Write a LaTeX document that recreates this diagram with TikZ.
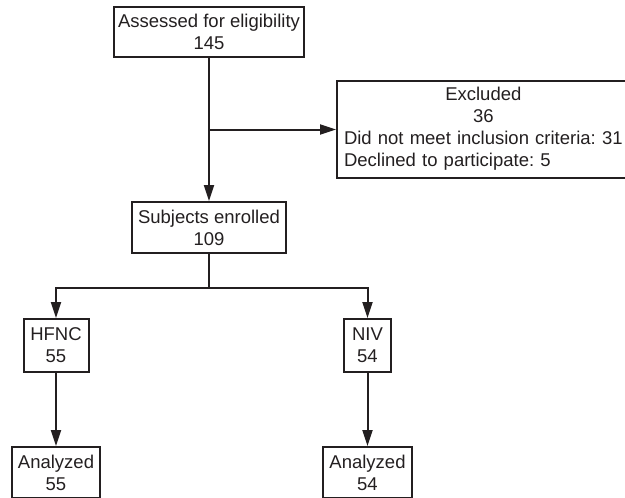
\documentclass[tikz,border=0pt]{standalone}
\usepackage{fontspec}
\setmainfont{Liberation Sans}
\usetikzlibrary{arrows.meta}
\definecolor{ink}{HTML}{231F20}
\frenchspacing

\begin{document}
\begin{tikzpicture}[
x=1pt, y=-1pt,
font=\fontsize{18.5}{22}\selectfont,
>={Triangle[length=16pt,width=10pt]}
]

\tikzstyle{box} = [draw=ink, line width=2pt, shape=rectangle, align=center, inner sep=0pt, text=ink]
\tikzstyle{ln} = [draw=ink, line width=2pt]

\useasboundingbox (0,0) rectangle (625,498);

\node[box, minimum width=190pt, minimum height=50pt] (assessed) at (209,32) {Assessed for eligibility\\145};
\node[box, anchor=west, minimum height=97pt, text width=280pt, inner xsep=7pt, align=left] (excluded) at (336,129.5)
	{\begin{tabular}{@{}l@{}}
	\multicolumn{1}{@{}c@{}}{Excluded}\\
	\multicolumn{1}{@{}c@{}}{36}\\
	Did not meet inclusion criteria: 31\\
	Declined to participate: 5
	\end{tabular}};
\node[box, minimum width=154pt, minimum height=51pt] (enrolled) at (209,227.5) {Subjects enrolled\\109};
\node[box, minimum width=65pt, minimum height=53pt] (hfnc) at (56,345.5) {HFNC\\55};
\node[box, minimum width=47pt, minimum height=53pt] (niv) at (367.5,345.5) {NIV\\54};
\node[box, minimum width=88pt, minimum height=51pt] (anhfnc) at (56,472.5) {Analyzed\\55};
\node[box, minimum width=89pt, minimum height=51pt] (anniv) at (367.5,472.5) {Analyzed\\54};

\coordinate (split) at (209,129.5);
\coordinate (fork) at (209,288);

\draw[ln,->] (assessed) -- (enrolled);
\draw[ln,->] (split) -- (excluded.west);
\draw[ln] (enrolled) -- (fork);
\draw[ln,->] (fork) -| (hfnc);
\draw[ln,->] (fork) -| (niv);
\draw[ln,->] (hfnc) -- (anhfnc);
\draw[ln,->] (niv) -- (anniv);
\end{tikzpicture}
\end{document}
